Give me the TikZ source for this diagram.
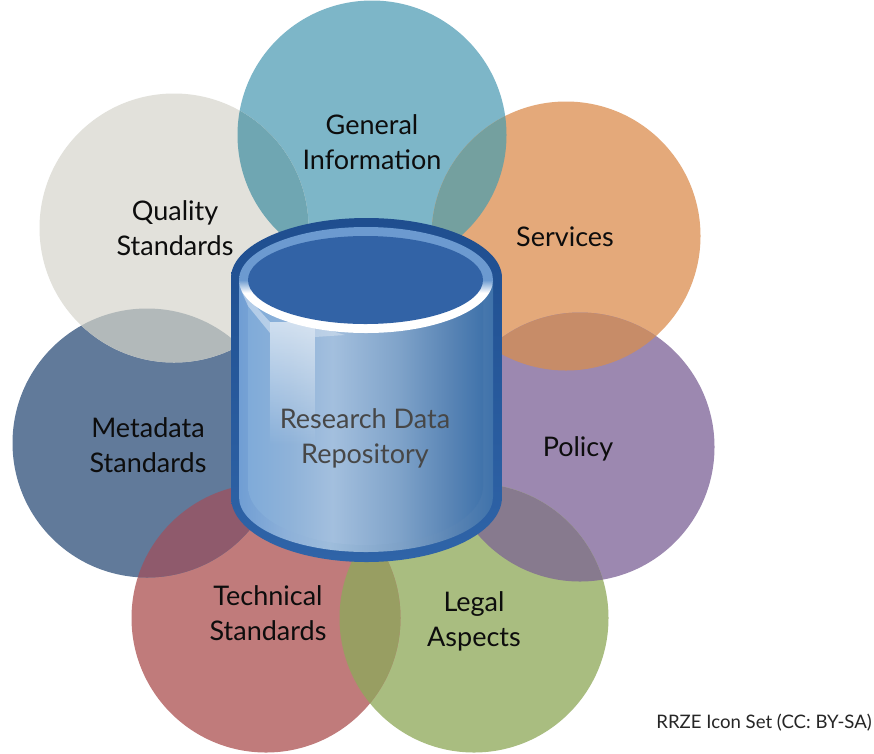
\documentclass[tikz,border=0pt]{standalone}
\usepackage{fontspec}
\setmainfont{Lato}
\usetikzlibrary{fadings}
\definecolor{cGen}{HTML}{7DB6C8}
\definecolor{cSer}{HTML}{E4A97A}
\definecolor{cPol}{HTML}{9C88B0}
\definecolor{cLeg}{HTML}{A9BD80}
\definecolor{cTec}{HTML}{C07B7B}
\definecolor{cMet}{HTML}{617A9A}
\definecolor{cQua}{HTML}{E2E1DB}
\definecolor{lGenSer}{HTML}{74A09F}
\definecolor{lGenQua}{HTML}{6FA6B2}
\definecolor{lSerPol}{HTML}{C78C68}
\definecolor{lPolLeg}{HTML}{877A8E}
\definecolor{lLegTec}{HTML}{989E62}
\definecolor{lTecMet}{HTML}{8F5A6C}
\definecolor{lMetQua}{HTML}{B2B9BA}
\definecolor{cylDark}{HTML}{1F4E8F}
\definecolor{cylEdge}{HTML}{2F64A8}
\definecolor{cylTop}{HTML}{3263A6}
\definecolor{cylRim}{HTML}{6C9AD0}
\pgfdeclarehorizontalshading{cylbody}{100bp}{
  rgb(0bp)=(0.50,0.67,0.85); rgb(25bp)=(0.50,0.67,0.85);
  rgb(34bp)=(0.56,0.70,0.85); rgb(43bp)=(0.64,0.75,0.87); rgb(57bp)=(0.50,0.64,0.79);
  rgb(68bp)=(0.35,0.52,0.71); rgb(75bp)=(0.25,0.45,0.67); rgb(100bp)=(0.25,0.45,0.67)}
\pgfdeclarehorizontalshading{cyllip}{100bp}{
  rgb(0bp)=(0.44,0.62,0.83); rgb(25bp)=(0.44,0.62,0.83);
  rgb(34bp)=(0.55,0.69,0.85); rgb(43bp)=(0.62,0.74,0.86); rgb(57bp)=(0.49,0.63,0.78);
  rgb(68bp)=(0.34,0.51,0.70); rgb(75bp)=(0.25,0.45,0.67); rgb(100bp)=(0.25,0.45,0.67)}
\pgfdeclareverticalshading{cylrim}{100bp}{
  color(0bp)=(white); color(25bp)=(white); color(44bp)=(white);
  color(50bp)=(cylRim); color(100bp)=(cylRim)}
\tikzset{
  lbl/.style={font=\fontsize{27}{35}\selectfont, align=center, text=black!95},
}
\newcommand{\disc}[3]{\fill[#1] (#2,#3) circle[radius=134.5];}
\newcommand{\overlap}[5]{\begin{scope}\clip (#1,#2) circle[radius=134.5];\fill[#5] (#3,#4) circle[radius=134.5];\end{scope}}
\begin{document}
\begin{tikzpicture}[x=1pt,y=-1pt]
\useasboundingbox (0,0) rectangle (874,753);
\fill[white] (0,0) rectangle (874,753);
% discs
\disc{cGen}{372}{135}
\disc{cSer}{566}{236}
\disc{cPol}{580}{447}
\disc{cLeg}{474}{618}
\disc{cTec}{266}{618}
\disc{cMet}{147}{443}
\disc{cQua}{174}{228}
% overlaps
\overlap{372}{135}{566}{236}{lGenSer}
\overlap{372}{135}{174}{228}{lGenQua}
\overlap{566}{236}{580}{447}{lSerPol}
\overlap{580}{447}{474}{618}{lPolLeg}
\overlap{474}{618}{266}{618}{lLegTec}
\overlap{266}{618}{147}{443}{lTecMet}
\overlap{147}{443}{174}{228}{lMetQua}
% cylinder
\shade[top color=cylDark,bottom color=cylEdge]
  (231,278) -- (231,497) arc[start angle=180,end angle=360,x radius=135.5,y radius=-65]
  -- (502,278) arc[start angle=0,end angle=180,x radius=135.5,y radius=-60] -- cycle;
\shade[shading=cyllip]
  (239,280) -- (239,497) arc[start angle=180,end angle=360,x radius=127,y radius=-55]
  -- (493,280) -- cycle;
\shade[shading=cylbody]
  (248,280) -- (248,486) arc[start angle=180,end angle=360,x radius=117.5,y radius=-59]
  -- (483,280) -- cycle;
\fill[white,opacity=.6,path fading=south] (270,322) rectangle (315,445);
\fill[white,opacity=.4] (241,290) -- (270,322) -- (270,333) -- (248,306) -- cycle;
\fill[white,opacity=.3] (315,326) -- (345,335) -- (315,337) -- cycle;
\shade[shading=cylrim] (366,280) ellipse[x radius=127,y radius=53];
\fill[cylTop] (365.5,280) ellipse[x radius=117.5,y radius=44];
% labels
\node[lbl] (general) at (372,142) {General\\Information};
\node[lbl] (services) at (565,237) {Services};
\node[lbl] (policy) at (578,449) {Policy};
\node[lbl] (legal) at (474,621) {Legal\\Aspects};
\node[lbl] (technical) at (268,613) {Technical\\Standards};
\node[lbl] (metadata) at (148,445) {Metadata\\Standards};
\node[lbl] (quality) at (175,228) {Quality\\Standards};
\node[lbl,text=black!72] (repo) at (365,438) {Research Data\\Repository};
\node[font=\fontsize{18.6}{22}\selectfont,text=black!85,anchor=east,inner sep=0pt] (credit) at (872,723) {RRZE Icon Set (CC: BY-SA)};
\end{tikzpicture}
\end{document}
